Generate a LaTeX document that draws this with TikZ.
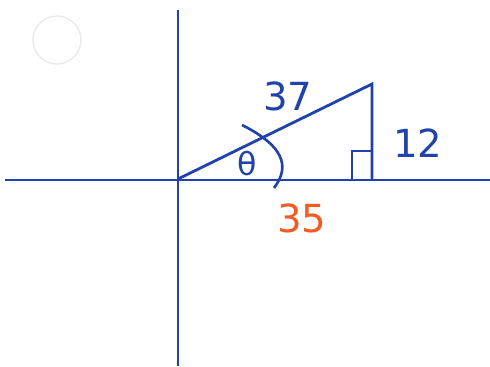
\documentclass[tikz,border=0pt]{standalone}
\usepackage{fontspec}
\setmainfont{DejaVu Sans}
\usetikzlibrary{positioning,calc}
\definecolor{pnblue}{RGB}{32,66,170}
\definecolor{pnorange}{RGB}{240,92,36}
\definecolor{pnhole}{RGB}{232,234,236}
\tikzset{
  pnAxis/.style={draw=pnblue, line width=1.6pt},
  pnSide/.style={draw=pnblue, line width=1.6pt, line cap=round},
  pnMark/.style={draw=pnblue, line width=1.5pt},
  pnLabel/.style={text=pnblue, font=\fontsize{22}{22}\selectfont, inner sep=0pt},
  pnHole/.style={draw=pnhole, line width=0.8pt}
}
\begin{document}
\begin{tikzpicture}[x=0.02cm, y=-0.02cm]
  \useasboundingbox (0,0) rectangle (490,366);
  % punch hole
  \draw[pnHole] (57,40) circle (24);
  % axes
  \coordinate (ytop) at (178,10);
  \coordinate (ybot) at (178,366);
  \coordinate (xleft) at (5,180);
  \coordinate (xright) at (490,180);
  \draw[pnAxis] (ytop) -- (ybot);
  \draw[pnAxis] (xleft) -- (xright);
  % triangle
  \coordinate (orig) at (178,179);
  \coordinate (apex) at (372,84);
  \coordinate (foot) at (372,179);
  \draw[pnSide] (orig) -- (apex) -- (foot);
  \draw[pnMark] (352,179) -- (352,151) -- (372,151);
  % angle
  \draw[pnMark] (242,125) .. controls (292,150) and (286,172) .. (274,188);
  % labels
  \node[pnLabel, font=\fontsize{18}{18}\selectfont] (theta) at (247,164) {θ};
  \node[pnLabel] (hyp) at (288,96) {37};
  \node[pnLabel] (opp) at (418,143) {12};
  \node[pnLabel, text=pnorange] (adj) at (302,218) {35};
\end{tikzpicture}
\end{document}
